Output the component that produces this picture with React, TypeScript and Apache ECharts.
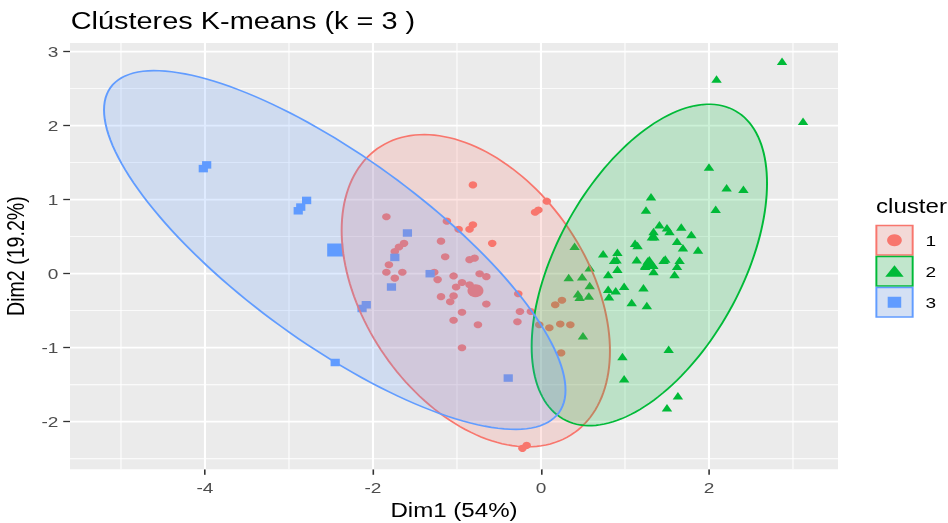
import React, { useEffect, useRef } from 'react';
import * as echarts from 'echarts';

// The reference picture is horizontally stretched; we draw at a narrower width and stretch it back.
const STRETCH = 1.23;
const PAGE_W = 948;
const PAGE_H = 523;
const W = PAGE_W / STRETCH;
const FONT = '"Liberation Sans", Arial, sans-serif';

const titleText = 'Clústeres K-means (k = 3 )';
const xName = 'Dim1 (54%)';
const yName = 'Dim2 (19.2%)';
const legendTitle = 'cluster';
const clusterNames = ['1', '2', '3'];
const clusterColors = ['#F8766D', '#00BA38', '#619CFF'];
const clusterFills = ['rgba(248,118,109,0.2)', 'rgba(0,186,56,0.2)', 'rgba(97,156,255,0.2)'];

// cluster 1 (circles)
const c1X = [-0.81, 0.07, -0.03, -0.07, -1.84, -1.12, -0.98, -0.81, -0.85, -0.58, -1.63, -1.69, -1.74, -1.19, -1.14, -0.79, -0.85, -1.81, -1.84, -1.65, -1.74, -1.27, -1.23, -1.04, -0.73, -0.65, -0.94, -1.01, -0.85, -1.19, -1.04, -1.08, -0.65, -0.94, -1.04, -0.75, -0.27, -0.25, -0.12, -0.28, -0.02, 0.10, 0.23, 0.35, 0.17, 0.25, -0.94, 0.24, -0.17, -0.22];
const c1Y = [1.20, 0.98, 0.86, 0.83, 0.77, 0.71, 0.60, 0.66, 0.60, 0.41, 0.41, 0.36, 0.30, 0.44, 0.23, 0.21, 0.19, 0.12, 0.02, 0.02, -0.06, 0.02, -0.08, -0.03, 0.00, -0.04, -0.12, -0.18, -0.15, -0.31, -0.30, -0.38, -0.41, -0.52, -0.63, -0.69, -0.27, -0.51, -0.51, -0.65, -0.69, -0.73, -0.68, -0.69, -0.42, -0.36, -1.00, -1.07, -2.32, -2.36];

// cluster 2 (triangles)
const c2X = [2.87, 2.09, 3.12, 2.00, 2.21, 2.41, 2.08, 1.31, 1.25, 1.41, 1.50, 1.53, 1.34, 1.32, 1.35, 1.67, 1.79, 1.62, 1.69, 1.87, 1.12, 1.15, 0.74, 0.91, 0.90, 0.87, 1.14, 1.48, 1.46, 1.65, 1.24, 1.34, 1.62, 1.59, 0.91, 0.80, 0.99, 1.22, 0.80, 0.89, 0.81, 1.08, 1.26, 0.40, 0.58, 0.33, 0.49, 0.58, 0.44, 0.46, 0.57, 0.50, 1.52, 0.97, 0.99, 1.63, 1.50, 1.27, 1.33];
const c2Y = [2.87, 2.63, 2.06, 1.44, 1.16, 1.14, 0.87, 1.04, 0.86, 0.66, 0.62, 0.57, 0.57, 0.50, 0.50, 0.63, 0.53, 0.44, 0.35, 0.32, 0.41, 0.38, 0.27, 0.29, 0.19, 0.18, 0.19, 0.20, 0.18, 0.18, 0.10, 0.03, 0.10, -0.01, 0.06, -0.01, -0.17, -0.19, -0.21, -0.23, -0.31, -0.39, -0.43, 0.37, 0.08, -0.05, -0.04, -0.16, -0.27, -0.32, -0.30, -0.84, -1.02, -1.12, -1.42, -1.65, -1.81, 0.17, 0.12];

// cluster 3 (squares)
const c3X = [-3.98, -4.02, -2.89, -2.86, -2.79, -2.42, -2.13, -2.08, -2.45, -1.59, -1.74, -1.32, -1.78, -0.39];
const c3Y = [1.47, 1.42, 0.85, 0.90, 0.99, 0.30, -0.47, -0.42, -1.20, 0.55, 0.22, 0.00, -0.18, -1.41];

// cluster centres (large markers)
const centroidX = [-0.78, 1.29, -2.45];
const centroidY = [-0.23, 0.15, 0.32];

// ellipse parameters: x = cx + A cos t, y = cy + B cos t + C sin t
const ellipseCX = [-0.776, 1.290, -2.455];
const ellipseCY = [-0.230, 0.118, 0.320];
const ellipseA = [1.597, 1.401, 2.747];
const ellipseB = [-0.815, 1.103, -1.892];
const ellipseC = [1.945, 1.870, 1.514];

const xTicks = [-4, -2, 0, 2];
const yTicks = [-2, -1, 0, 1, 2, 3];
const xMinor = [-5, -3, -1, 1, 3];
const yMinor = [-2.5, -1.5, -0.5, 0.5, 1.5, 2.5];
const xRange = [-5.607, 3.536];
const yRange = [-2.643, 3.117];

const GRID_LEFT = 70 / STRETCH;
const GRID_RIGHT_EDGE = 838 / STRETCH;
const GRID_TOP = 43;
const GRID_BOTTOM_EDGE = 469.3;

function buildOption() {
  const gridData: number[][] = [];
  xMinor.forEach((v) => gridData.push([v, 0, 0]));
  yMinor.forEach((v) => gridData.push([v, 1, 0]));
  xTicks.forEach((v) => gridData.push([v, 0, 1]));
  yTicks.forEach((v) => gridData.push([v, 1, 1]));

  const ellipseData = ellipseCX.map((cx, i) => [cx, ellipseCY[i], ellipseA[i], ellipseB[i], ellipseC[i], i]);

  const clusterXs = [c1X, c2X, c3X];
  const clusterYs = [c1Y, c2Y, c3Y];
  const symbols = ['circle', 'triangle', 'rect'];
  const sizes: any[] = [7, [8.5, 7.5], 7.5];
  const centroidSizes: any[] = [13, [15, 13], 13];

  const pointSeries = clusterXs.map((xs, k) => ({
    type: 'scatter',
    name: clusterNames[k],
    z: 2,
    silent: true,
    symbol: symbols[k],
    symbolSize: sizes[k],
    itemStyle: { color: clusterColors[k], opacity: 1 },
    data: xs.map((x, i) => [x, clusterYs[k][i]]),
  }));

  const centroidSeries = centroidX.map((x, k) => ({
    type: 'scatter',
    name: 'centre ' + clusterNames[k],
    z: 2,
    silent: true,
    symbol: symbols[k],
    symbolSize: centroidSizes[k],
    itemStyle: { color: clusterColors[k], opacity: 1 },
    data: [[x, centroidY[k]]],
  }));

  const axisLabelBase = { color: '#4D4D4D', fontSize: 15.5, fontFamily: FONT };

  const kx = 727.2;
  const boxTops = [225.5, 256.5, 287.5];
  const boxH = 29.5;
  const legendGraphics: any[] = [
    {
      type: 'text',
      x: 712.2,
      y: 206.5,
      style: { text: legendTitle, fontSize: 19.6, fontFamily: FONT, fill: '#000', align: 'left', verticalAlign: 'middle' },
    },
  ];
  boxTops.forEach((top, k) => {
    const cy = top + boxH / 2;
    legendGraphics.push({
      type: 'rect',
      shape: { x: 712.5, y: top, width: 29.5, height: boxH },
      style: { fill: '#F2F2F2', stroke: null },
    });
    legendGraphics.push({
      type: 'rect',
      shape: { x: 712.5, y: top, width: 29.5, height: boxH },
      style: { fill: clusterFills[k], stroke: clusterColors[k], lineWidth: 1.6 },
    });
    if (k === 0) {
      legendGraphics.push({ type: 'circle', shape: { cx: kx, cy, r: 6 }, style: { fill: clusterColors[k] } });
    } else if (k === 1) {
      legendGraphics.push({
        type: 'polygon',
        shape: { points: [[kx, cy - 6], [kx - 7.5, cy + 5.5], [kx + 7.5, cy + 5.5]] },
        style: { fill: clusterColors[k] },
      });
    } else {
      legendGraphics.push({ type: 'rect', shape: { x: kx - 5.5, y: cy - 5.5, width: 11, height: 11 }, style: { fill: clusterColors[k] } });
    }
    legendGraphics.push({
      type: 'text',
      x: 752.5,
      y: cy,
      style: { text: clusterNames[k], fontSize: 15.5, fontFamily: FONT, fill: '#000', align: 'left', verticalAlign: 'middle' },
    });
  });

  return {
    animation: false,
    backgroundColor: '#FFFFFF',
    textStyle: { fontFamily: FONT },
    title: {
      text: titleText,
      left: 57.5,
      top: 9.4,
      padding: 0,
      textStyle: { fontSize: 23.5, fontWeight: 'normal', color: '#000', fontFamily: FONT },
    },
    grid: {
      left: GRID_LEFT,
      top: GRID_TOP,
      width: GRID_RIGHT_EDGE - GRID_LEFT,
      height: GRID_BOTTOM_EDGE - GRID_TOP,
      show: true,
      backgroundColor: '#EBEBEB',
      borderWidth: 0,
      containLabel: false,
      outerBoundsMode: 'none',
    },
    xAxis: {
      type: 'value',
      min: xRange[0],
      max: xRange[1],
      position: 'bottom',
      name: xName,
      nameLocation: 'middle',
      nameGap: 30.5,
      nameTextStyle: { fontSize: 19.6, color: '#000', fontFamily: FONT },
      axisLine: { show: false, onZero: false },
      axisTick: { show: true, length: 5.5, customValues: xTicks, lineStyle: { color: '#333333', width: 1.3 } },
      axisLabel: { ...axisLabelBase, margin: 10.5, customValues: xTicks },
      splitLine: { show: false },
    },
    yAxis: {
      type: 'value',
      min: yRange[0],
      max: yRange[1],
      position: 'left',
      name: yName,
      nameLocation: 'middle',
      nameGap: 25.5,
      nameTextStyle: { fontSize: 19.6, color: '#000', fontFamily: FONT },
      axisLine: { show: false, onZero: false },
      axisTick: { show: true, length: 5.5, customValues: yTicks, lineStyle: { color: '#333333', width: 1.3 } },
      axisLabel: { ...axisLabelBase, margin: 9.5, customValues: yTicks },
      splitLine: { show: false },
    },
    graphic: legendGraphics,
    series: [
      {
        type: 'custom',
        name: 'grid lines',
        z: 1,
        silent: true,
        clip: false,
        data: gridData,
        renderItem: (params: any, api: any) => {
          const cs = params.coordSys;
          const v = api.value(0);
          const dir = api.value(1);
          const major = api.value(2) === 1;
          let shape;
          if (dir === 0) {
            const p = api.coord([v, yRange[0]]);
            shape = { x1: p[0], y1: cs.y, x2: p[0], y2: cs.y + cs.height };
          } else {
            const p = api.coord([xRange[0], v]);
            shape = { x1: cs.x, y1: p[1], x2: cs.x + cs.width, y2: p[1] };
          }
          return { type: 'line', shape, style: { stroke: '#FFFFFF', lineWidth: major ? 1.7 : 0.85 } };
        },
      },
      ...pointSeries,
      ...centroidSeries,
      {
        type: 'custom',
        name: 'ellipses',
        z: 3,
        silent: true,
        clip: false,
        data: ellipseData,
        renderItem: (params: any, api: any) => {
          const cx = api.value(0);
          const cy = api.value(1);
          const A = api.value(2);
          const B = api.value(3);
          const C = api.value(4);
          const k = api.value(5);
          const pts: number[][] = [];
          const N = 160;
          for (let j = 0; j < N; j++) {
            const t = (2 * Math.PI * j) / N;
            pts.push(api.coord([cx + A * Math.cos(t), cy + B * Math.cos(t) + C * Math.sin(t)]));
          }
          return {
            type: 'polygon',
            shape: { points: pts },
            style: { fill: clusterFills[k], stroke: clusterColors[k], lineWidth: 1.6 },
          };
        },
      },
    ],
  };
}

export default function App() {
  const ref = useRef<HTMLDivElement>(null);
  useEffect(() => {
    if (!ref.current) return;
    const chart = echarts.init(ref.current, null, { renderer: 'svg', width: W, height: PAGE_H });
    chart.setOption(buildOption() as any);
    return () => {
      chart.dispose();
    };
  }, []);
  return (
    <div
      ref={ref}
      style={{
        position: 'fixed',
        left: 0,
        top: 0,
        width: W,
        height: PAGE_H,
        transform: `scaleX(${STRETCH})`,
        transformOrigin: '0 0',
      }}
    />
  );
}
